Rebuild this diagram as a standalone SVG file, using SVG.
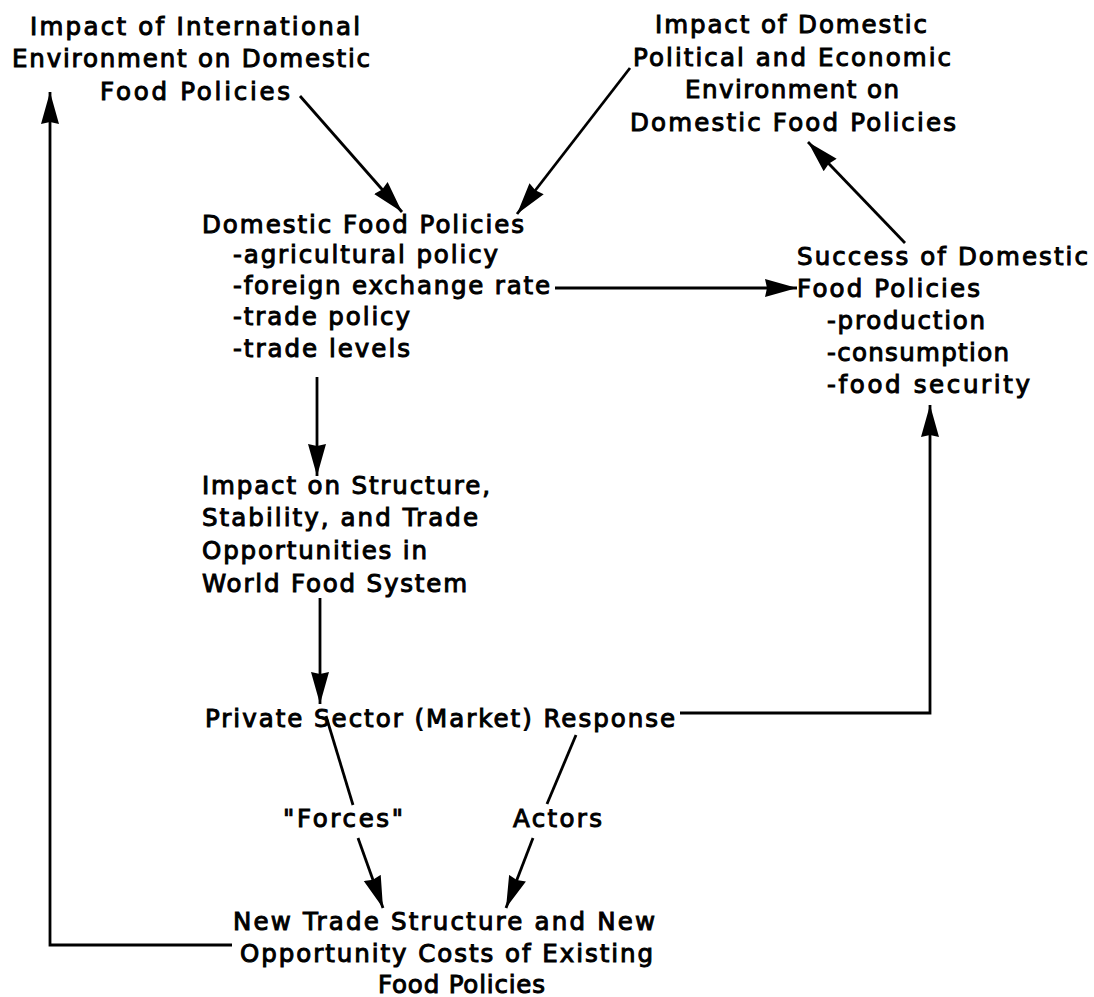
<svg xmlns="http://www.w3.org/2000/svg" width="1094" height="997" viewBox="0 0 1094 997">
  <style>
    text { font-family: "DejaVu Sans", "Liberation Sans", sans-serif; font-size: 24.5px; fill: #000; stroke: #000; stroke-width: 1px; }
    .conn { fill: none; stroke: #000; stroke-width: 2.8; stroke-linejoin: miter; }
  </style>
  <defs>
    <!-- long, solid filled arrowhead shared by every connector -->
    <marker id="head" markerUnits="userSpaceOnUse" markerWidth="34" markerHeight="20" refX="32" refY="10" orient="auto">
      <path d="M0,1 L32,10 L0,19 L2,10 z" fill="#000"/>
    </marker>
  </defs>
  <rect width="1094" height="997" fill="#fff"/>

  <g id="connectors">
    <line class="conn" x1="300" y1="96" x2="402" y2="212" marker-end="url(#head)"/>
    <line class="conn" x1="630" y1="68" x2="517" y2="214" marker-end="url(#head)"/>
    <line class="conn" x1="905" y1="243" x2="808" y2="142" marker-end="url(#head)"/>
    <line class="conn" x1="555" y1="288" x2="797" y2="288" marker-end="url(#head)"/>
    <line class="conn" x1="317" y1="377" x2="317" y2="476" marker-end="url(#head)"/>
    <line class="conn" x1="320" y1="598" x2="320" y2="704" marker-end="url(#head)"/>
    <line class="conn" x1="326" y1="716" x2="353" y2="805"/>
    <line class="conn" x1="576" y1="735" x2="547" y2="804"/>
    <line class="conn" x1="358" y1="838" x2="383" y2="908" marker-end="url(#head)"/>
    <line class="conn" x1="533" y1="838" x2="506" y2="908" marker-end="url(#head)"/>
    <polyline class="conn" points="680,713 930,713 930,405" marker-end="url(#head)"/>
    <polyline class="conn" points="232,945 50,945 50,92" marker-end="url(#head)"/>
  </g>

  <g id="intl-environment">
    <text x="30" y="35" textLength="330" lengthAdjust="spacing">Impact of International</text>
    <text x="12" y="67" textLength="358" lengthAdjust="spacing">Environment on Domestic</text>
    <text x="100" y="100" textLength="190" lengthAdjust="spacing">Food Policies</text>
  </g>

  <g id="domestic-environment">
    <text x="655" y="33" textLength="272" lengthAdjust="spacing">Impact of Domestic</text>
    <text x="633" y="66" textLength="318" lengthAdjust="spacing">Political and Economic</text>
    <text x="685" y="98" textLength="214" lengthAdjust="spacing">Environment on</text>
    <text x="630" y="131" textLength="326" lengthAdjust="spacing">Domestic Food Policies</text>
  </g>

  <g id="domestic-policies">
    <text x="202" y="233" textLength="322" lengthAdjust="spacing">Domestic Food Policies</text>
    <text x="233" y="263" textLength="265" lengthAdjust="spacing">-agricultural policy</text>
    <text x="233" y="294" textLength="317" lengthAdjust="spacing">-foreign exchange rate</text>
    <text x="233" y="325" textLength="177" lengthAdjust="spacing">-trade policy</text>
    <text x="233" y="357" textLength="177" lengthAdjust="spacing">-trade levels</text>
  </g>

  <g id="policy-success">
    <text x="797" y="265" textLength="291" lengthAdjust="spacing">Success of Domestic</text>
    <text x="797" y="297" textLength="183" lengthAdjust="spacing">Food Policies</text>
    <text x="827" y="329" textLength="158" lengthAdjust="spacing">-production</text>
    <text x="827" y="361" textLength="182" lengthAdjust="spacing">-consumption</text>
    <text x="827" y="393" textLength="203" lengthAdjust="spacing">-food security</text>
  </g>

  <g id="world-impact">
    <text x="202" y="494" textLength="288" lengthAdjust="spacing">Impact on Structure,</text>
    <text x="202" y="526" textLength="276" lengthAdjust="spacing">Stability, and Trade</text>
    <text x="202" y="559" textLength="225" lengthAdjust="spacing">Opportunities in</text>
    <text x="202" y="592" textLength="265" lengthAdjust="spacing">World Food System</text>
  </g>

  <g id="market-response">
    <text x="205" y="727" textLength="470" lengthAdjust="spacing">Private Sector (Market) Response</text>
  </g>

  <g id="forces">
    <text x="283" y="827" textLength="120" lengthAdjust="spacing">"Forces"</text>
  </g>

  <g id="actors">
    <text x="513" y="827" textLength="89" lengthAdjust="spacing">Actors</text>
  </g>

  <g id="new-trade-structure">
    <text x="233" y="930" textLength="422" lengthAdjust="spacing">New Trade Structure and New</text>
    <text x="240" y="962" textLength="413" lengthAdjust="spacing">Opportunity Costs of Existing</text>
    <text x="378" y="993" textLength="167" lengthAdjust="spacing">Food Policies</text>
  </g>
</svg>
